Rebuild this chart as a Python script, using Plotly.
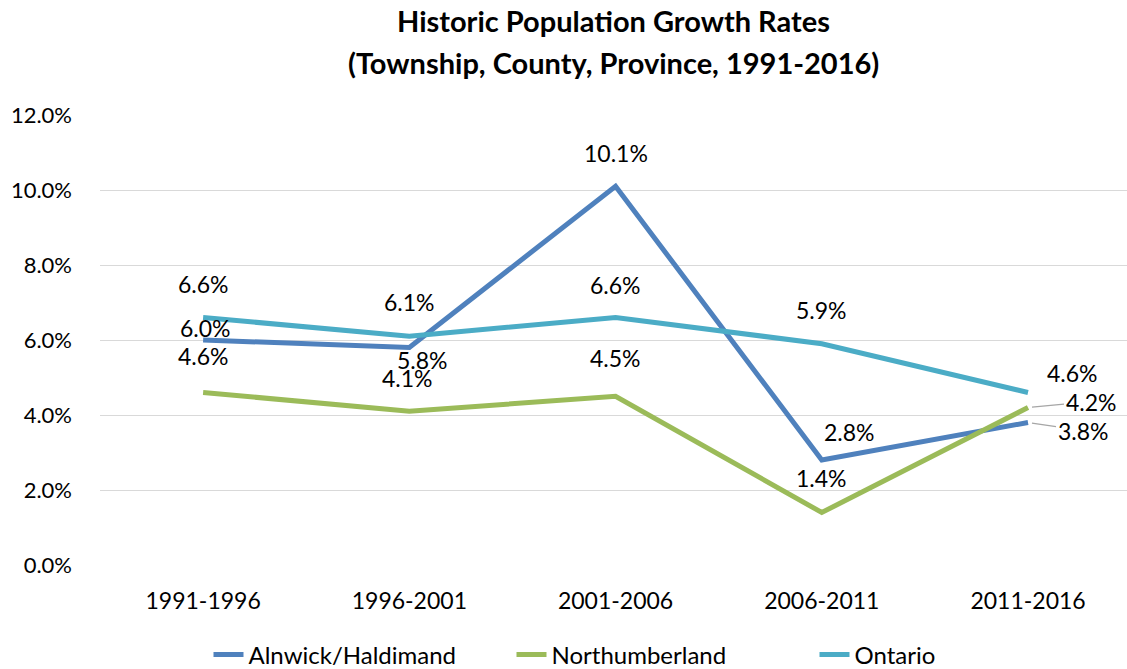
import plotly.graph_objects as go

periods = ["1991-1996", "1996-2001", "2001-2006", "2006-2011", "2011-2016"]
alnwick = [6.0, 5.8, 10.1, 2.8, 3.8]
northumberland = [4.6, 4.1, 4.5, 1.4, 4.2]
ontario = [6.6, 6.1, 6.6, 5.9, 4.6]
series_names = ["Alnwick/Haldimand", "Northumberland", "Ontario"]
y_ticks = [0, 2, 4, 6, 8, 10, 12]
title_lines = ["Historic Population Growth Rates", "(Township, County, Province, 1991-2016)"]

colors = ["#4F81BD", "#9BBB59", "#4BACC6"]
FONT = "Lato"
LBL = 23

fig = go.Figure()
for name, vals, col in zip(series_names, [alnwick, northumberland, ontario], colors):
    fig.add_trace(go.Scatter(x=periods, y=vals, name=name, mode="lines",
                             line=dict(color=col, width=5)))

# label offsets (pixels) per series and point: (xshift, yshift)
offsets = {
    0: [(2, 12), (13, -12), (0, 33), (28, 28), None],
    1: [(0, 37), (-2, 33), (0, 38), (0, 35), None],
    2: [(0, 34), (0, 34), (0, 33), (0, 34), (44, 20)],
}
for si, vals in enumerate([alnwick, northumberland, ontario]):
    for i, v in enumerate(vals):
        off = offsets[si][i]
        if off is None:
            continue
        fig.add_annotation(x=periods[i], y=v, text=f"{v:.1f}%", showarrow=False,
                           xshift=off[0], yshift=off[1],
                           font=dict(family=FONT, size=LBL, color="#000"))

# labels with leader lines at last point
fig.add_annotation(x=periods[4], y=northumberland[4], text=f"{northumberland[4]:.1f}%",
                   showarrow=True, arrowhead=0, arrowwidth=1.3, arrowcolor="#A6A6A6",
                   ax=63, ay=-6, standoff=4,
                   font=dict(family=FONT, size=LBL, color="#000"))
fig.add_annotation(x=periods[4], y=alnwick[4], text=f"{alnwick[4]:.1f}%",
                   showarrow=True, arrowhead=0, arrowwidth=1.3, arrowcolor="#A6A6A6",
                   ax=55, ay=8, standoff=4,
                   font=dict(family=FONT, size=LBL, color="#000"))

# title as two lines
for txt, ypix in zip(title_lines, [20, 62]):
    fig.add_annotation(text=f"<b>{txt}</b>", xref="paper", yref="paper",
                       x=0.5, y=1 + (115 - ypix) / 450, xanchor="center", yanchor="middle",
                       showarrow=False, font=dict(family=FONT, size=29, color="#000"))

fig.update_layout(
    width=1127, height=669,
    paper_bgcolor="white", plot_bgcolor="white",
    margin=dict(l=100, r=0, t=115, b=104),
    font=dict(family=FONT, color="#000"),
    showlegend=True,
    legend=dict(orientation="h", xref="container", x=0.185, xanchor="left", yref="container", y=0.021,
                yanchor="middle", font=dict(family=FONT, size=24, color="#000"),
                tracegroupgap=0, entrywidth=258, entrywidthmode="pixels"),
)
fig.update_xaxes(range=[-0.5, 4.48], showgrid=False, showline=False, zeroline=False,
                 ticks="", tickfont=dict(family=FONT, size=23, color="#000"), ticklabelstandoff=20)
fig.update_yaxes(range=[0, 12], tickvals=y_ticks, ticktext=[f"{t:.1f}%" for t in y_ticks],
                 showgrid=True, gridcolor="#D9D9D9", gridwidth=1, zeroline=False, showline=False,
                 tickfont=dict(family=FONT, size=22, color="#000"), ticklabelstandoff=27)

fig.write_html("out.html")
